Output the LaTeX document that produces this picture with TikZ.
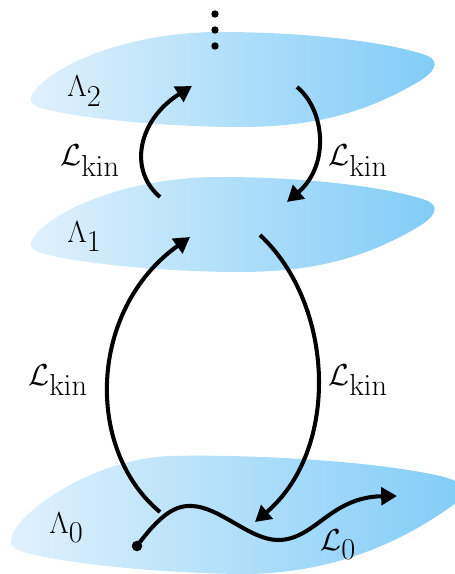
\documentclass[tikz,border=0pt]{standalone}
\usepackage{amsmath}
\usetikzlibrary{arrows.meta,calc,positioning}
\definecolor{sheetL}{RGB}{224,241,252}
\definecolor{sheetM}{RGB}{192,229,250}
\definecolor{sheetR}{RGB}{128,204,247}
\newcommand{\subtxt}[1]{_{\textstyle #1}}

\begin{document}
\begin{tikzpicture}[x=.02cm,y=-.02cm,font=\fontsize{18}{21}\selectfont,
 sheet/.style={left color=sheetL,middle color=sheetM,right color=sheetR},
 flow/.style={line width=2.3pt,-{Triangle[length=9pt,width=10pt]}},
 lbl/.style={anchor=base west,inner sep=0pt}]
\useasboundingbox (0,0) rectangle (455,574);
\clip (0,0) rectangle (455,574);
% the two upper sheets
\foreach \dy in {0,145}
 \shade[sheet,shift={(0,\dy)}] (32,95) .. controls (45,70) and (120,32) .. (220,32)
  .. controls (320,32) and (400,45) .. (428,56) .. controls (440,62) and (435,72) .. (418,82)
  .. controls (370,110) and (320,127) .. (240,127) .. controls (150,127) and (55,115) .. (36,106)
  .. controls (30,103) and (29,99) .. (32,95) -- cycle;
% the lowest sheet
\shade[sheet] (12,537) .. controls (15,515) and (90,459) .. (170,456)
  .. controls (260,454) and (380,462) .. (440,476) .. controls (465,482) and (472,490) .. (460,500)
  .. controls (420,530) and (350,572) .. (250,574) .. controls (150,574) and (40,560) .. (18,550)
  .. controls (10,546) and (10,541) .. (12,537) -- cycle;
\foreach \k in {14,30,46} \fill (215,\k) circle (2.1pt);
\node[lbl] (lam2) at (67,97) {$\Lambda\subtxt{2}$};
\node[lbl] (lam1) at (67,242) {$\Lambda\subtxt{1}$};
\node[lbl] (lam0) at (49,533) {$\Lambda\subtxt{0}$};
\node[lbl] (kinA) at (60,166) {$\mathcal{L}\subtxt{\mathrm{kin}}$};
\node[lbl] (kinB) at (328,166) {$\mathcal{L}\subtxt{\mathrm{kin}}$};
\node[lbl] (kinC) at (28,385) {$\mathcal{L}\subtxt{\mathrm{kin}}$};
\node[lbl] (kinD) at (328,385) {$\mathcal{L}\subtxt{\mathrm{kin}}$};
\node[lbl] (ell0) at (320,550) {$\mathcal{L}\subtxt{0}$};
\coordinate (up1) at (160,197); \coordinate (up2) at (192,86);
\coordinate (dn1) at (297,87);  \coordinate (dn2) at (287,202);
\coordinate (a1) at (160,512);  \coordinate (a2) at (190,237);
\coordinate (b1) at (260,235);  \coordinate (b2) at (255,522);
\coordinate (w0) at (137,546);  \coordinate (wpk) at (192,506);
\coordinate (wtr) at (278,540); \coordinate (w1) at (397,496);
\draw[flow] (up1) .. controls +(-32,-27) and +(-54,34) .. (up2);
\draw[flow] (dn1) .. controls +(28,23) and +(43,-37) .. (dn2);
\draw[flow] (a1) .. controls +(-75,-62) and +(-102,73) .. (a2);
\draw[flow] (b1) .. controls +(75,70) and +(85,-72) .. (b2);
\draw[flow] (w0) .. controls +(23,-31) and +(-17,-1) .. (wpk)
  .. controls +(28,1) and +(-28,0) .. (wtr) .. controls +(37,0) and +(-67,1) .. (w1);
\fill (w0) circle (3pt);
\end{tikzpicture}
\end{document}
